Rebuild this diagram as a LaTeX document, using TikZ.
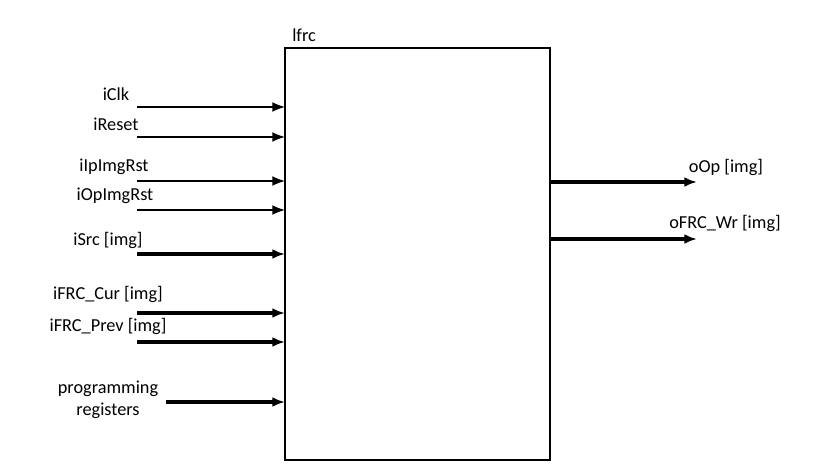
\documentclass[tikz,border=0pt]{standalone}
\usepackage{fontspec}
\setmainfont{Carlito}
\usetikzlibrary{arrows.meta}

\begin{document}
\begin{tikzpicture}[x=0.025cm, y=-0.025cm]
 \tikzstyle{blk}=[draw, line width=1pt, anchor=north west, inner sep=0pt, outer sep=0pt, minimum width=6.625cm, minimum height=10.3cm]
 \tikzstyle{lbl}=[text=black, inner sep=0pt, align=center, font=\fontsize{13}{16}\selectfont]
 \tikzstyle{sig}=[-{Latex[length=9pt, width=7pt]}, line width=1pt]
 \tikzstyle{bus}=[-{Latex[length=9pt, width=7pt]}, line width=2.4pt]
 \useasboundingbox (0,0) rectangle (840,475);
 %
 \node[blk] (lfrc) at (285, 48) {};
 \node[lbl, anchor=west] (tlfrc) at (292, 35) {lfrc};
 %
 \coordinate (cClk) at (137, 107);
 \coordinate (cReset) at (137, 137);
 \coordinate (cIpRst) at (137, 181);
 \coordinate (cOpRst) at (137, 210);
 \coordinate (cSrc) at (137, 254);
 \coordinate (cCur) at (137, 313);
 \coordinate (cPrev) at (137, 342);
 \coordinate (cProg) at (166, 402);
 \coordinate (cOp) at (697, 182);
 \coordinate (cWr) at (697, 239);
 %
 \node[lbl] (lClk) at (116, 94) {iClk};
 \node[lbl] (lReset) at (116, 124) {iReset};
 \node[lbl] (lIpRst) at (114, 167) {iIpImgRst};
 \node[lbl] (lOpRst) at (115, 196) {iOpImgRst};
 \node[lbl] (lSrc) at (108, 240) {iSrc [img]};
 \node[lbl] (lCur) at (108, 294) {iFRC\_Cur [img]};
 \node[lbl] (lPrev) at (108, 326) {iFRC\_Prev [img]};
 \node[lbl] (lProg) at (108, 400) {programming\\registers};
 \node[lbl] (lOp) at (726, 167) {oOp [img]};
 \node[lbl] (lWr) at (725, 223) {oFRC\_Wr [img]};
 %%
 \draw[sig] (cClk)--(cClk -| lfrc.west);
 \draw[sig] (cReset)--(cReset -| lfrc.west);
 \draw[sig] (cIpRst)--(cIpRst -| lfrc.west);
 \draw[sig] (cOpRst)--(cOpRst -| lfrc.west);
 \draw[bus] (cSrc)--(cSrc -| lfrc.west);
 \draw[bus] (cCur)--(cCur -| lfrc.west);
 \draw[bus] (cPrev)--(cPrev -| lfrc.west);
 \draw[bus] (cProg)--(cProg -| lfrc.west);
 \draw[bus] (cOp -| lfrc.east)--(cOp);
 \draw[bus] (cWr -| lfrc.east)--(cWr);
\end{tikzpicture}
\end{document}
